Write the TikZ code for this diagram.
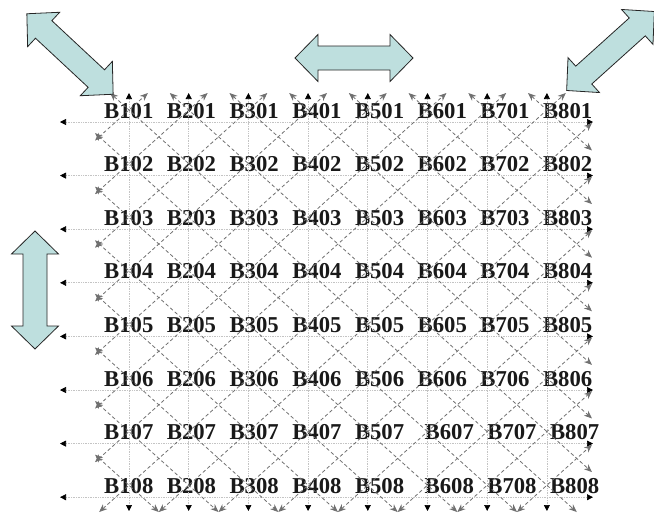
\documentclass[tikz,border=0pt]{standalone}
\usepackage{fontspec}
\setmainfont{Liberation Serif}
\usetikzlibrary{arrows.meta}
\definecolor{arrowfill}{RGB}{190,223,222}
\definecolor{linkgray}{RGB}{112,112,112}
\definecolor{gridgray}{RGB}{196,196,196}
\tikzset{
  gridline/.style={draw=gridgray, line width=0.7pt, dash pattern=on 1pt off 0.7pt,
    {Triangle[length=6pt,width=6pt,black]}-{Triangle[length=6pt,width=6pt,black]}},
  linkline/.style={draw=linkgray, line width=0.8pt, dash pattern=on 3.5pt off 2.5pt,
    {Stealth[length=8pt,width=6.5pt,inset=2.5pt]}-{Stealth[length=8pt,width=6.5pt,inset=2.5pt]}},
  blabel/.style={anchor=base west, inner sep=0pt, text=black!90,
    font=\fontsize{22.7}{26}\selectfont\bfseries},
  bigarrow/.pic={
    \draw[fill=arrowfill, draw=black!85, line width=0.8pt]
      (-59,0) -- (-36,23.5) -- (-36,12) -- (36,12) -- (36,23.5) -- (59,0)
      -- (36,-23.5) -- (36,-12) -- (-36,-12) -- (-36,-23.5) -- cycle;
  }
}
\begin{document}
\begin{tikzpicture}[x=1pt, y=-1pt]
    \useasboundingbox (0,0) rectangle (654,515);

    \foreach \j in {1,...,8} {
      \foreach \i in {1,...,8} {
        \pgfmathsetmacro\lx{104+62.7*(\i-1)+and(\j>6,\i>5)*7}
        \node[blabel] (b\i\j) at (\lx, {118+53.6*(\j-1)}) {B\i0\j};
      }
    }

    \foreach \j in {1,...,8} {
      \coordinate (hl\j) at (60, {122+53.6*(\j-1)});
      \coordinate (hr\j) at (593, {122+53.6*(\j-1)});
      \draw[gridline] (hl\j) -- (hr\j);
    }
    \foreach \i in {1,...,8} {
      \coordinate (vt\i) at ({129+59.7*(\i-1)}, 93);
      \coordinate (vb\i) at ({129+59.7*(\i-1)}, 511);
      \draw[gridline] (vt\i) -- (vb\i);
    }

    \foreach \d in {-7,...,7} {
      \pgfmathsetmacro\ta{max(0.4305,(\d)+0.683)}
      \pgfmathsetmacro\tb{min(8.755,(\d)+8.5)}
      \coordinate (da) at ({129+59.7*(\ta-1)}, {110+53.6*(\ta-(\d)-1)});
      \coordinate (db) at ({129+59.7*(\tb-1)}, {110+53.6*(\tb-(\d)-1)});
      \draw[linkline] (da) -- (db);
    }
    \foreach \s in {2,...,16} {
      \pgfmathsetmacro\ta{max(0.4305,\s-8.5)}
      \pgfmathsetmacro\tb{min(8.755,\s-0.683)}
      \coordinate (ua) at ({129+59.7*(\ta-1)}, {110+53.6*(\s-\ta-1)});
      \coordinate (ub) at ({129+59.7*(\tb-1)}, {110+53.6*(\s-\tb-1)});
      \draw[linkline] (ua) -- (ub);
    }

    \pic[rotate=-43] at (70,54) {bigarrow};
    \pic[rotate=42] at (610.5,51) {bigarrow};
    \pic at (354,58) {bigarrow};
    \pic[rotate=90] at (35,290) {bigarrow};
\end{tikzpicture}
\end{document}
